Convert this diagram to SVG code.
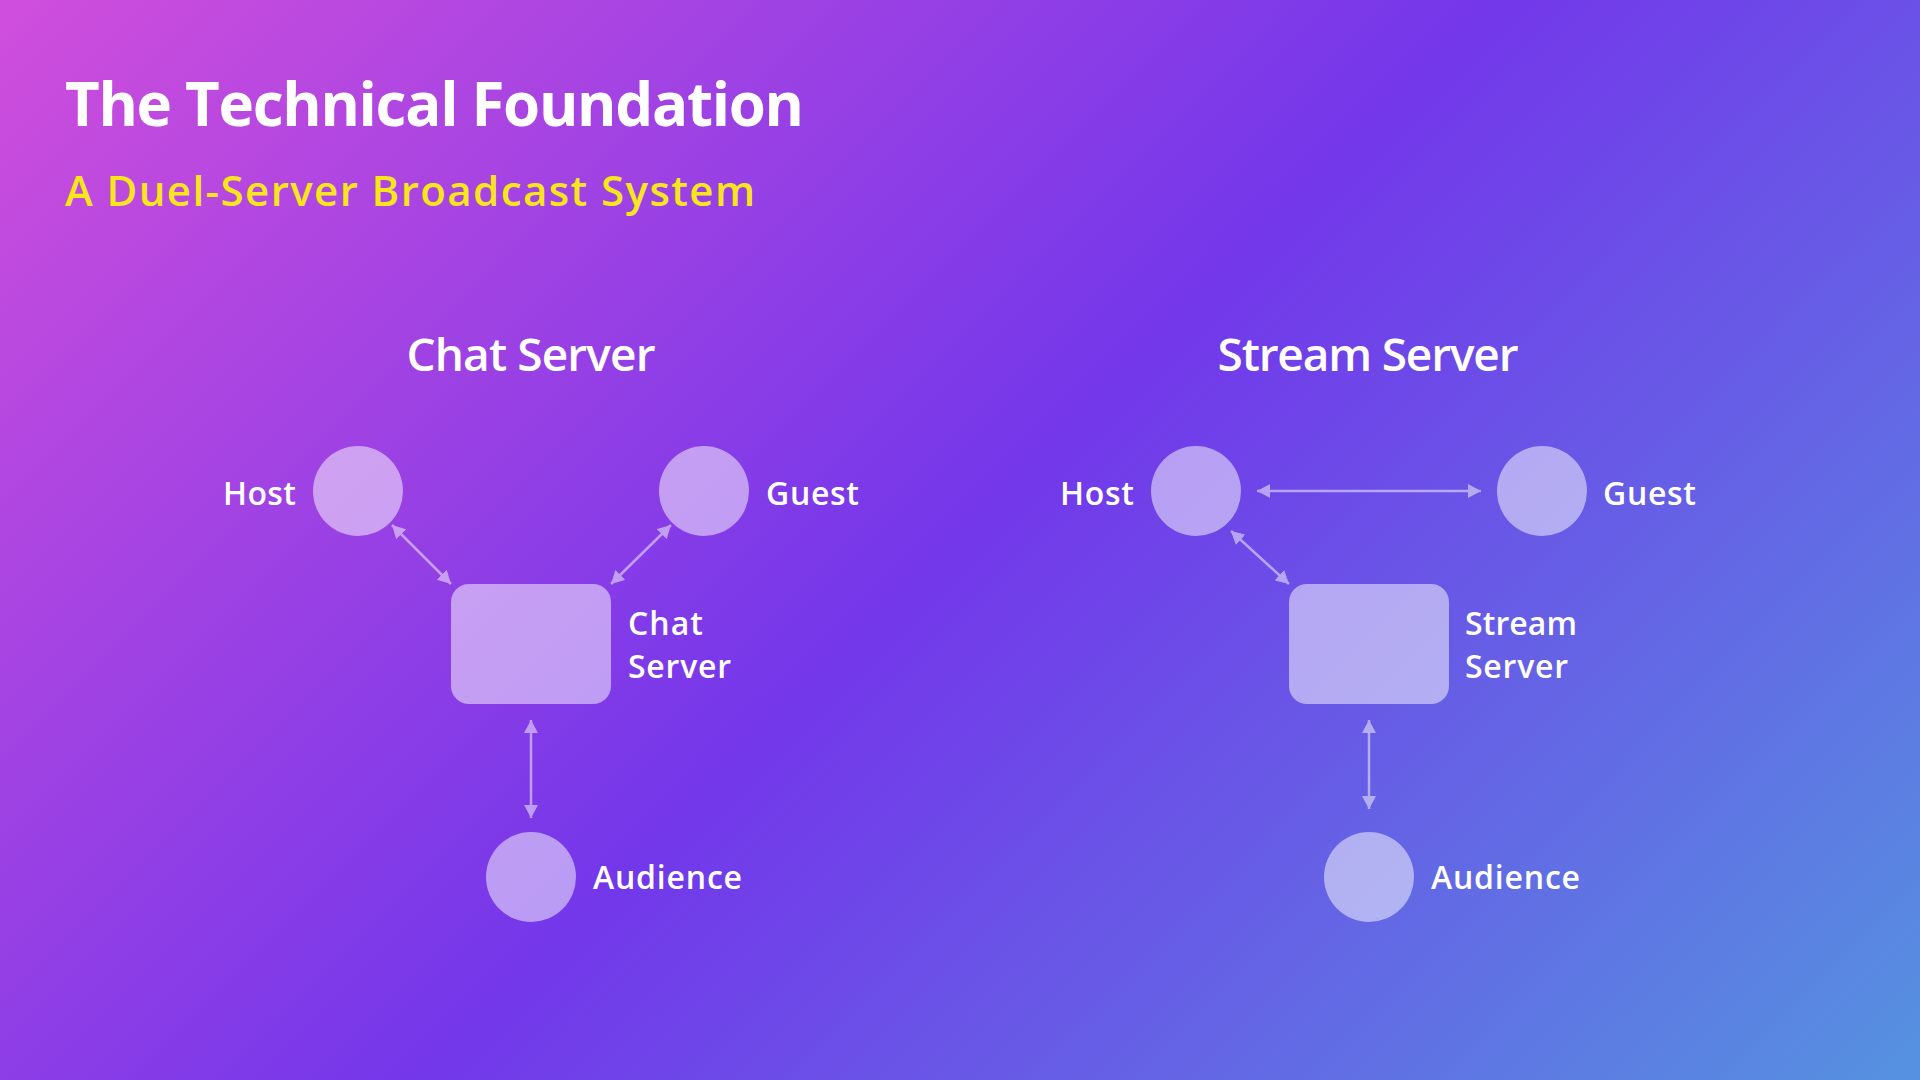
<svg xmlns="http://www.w3.org/2000/svg" width="1920" height="1080" viewBox="0 0 1920 1080">
  <defs>
    <linearGradient id="bg" gradientUnits="userSpaceOnUse" x1="0" y1="0" x2="1500" y2="1500">
      <stop offset="0" stop-color="#d04edc"/>
      <stop offset="0.5" stop-color="#7337ea"/>
      <stop offset="1" stop-color="#5592e0"/>
    </linearGradient>
    <marker id="arr" viewBox="0 0 13 14" markerUnits="userSpaceOnUse" markerWidth="13" markerHeight="14" refX="13" refY="7" orient="auto-start-reverse">
      <path d="M0,0 L13,7 L0,14 z" fill="#ffffff"/>
    </marker>
    <style>
      .title { font-family: "Open Sans", "Liberation Sans", sans-serif; font-weight: 700; font-size: 60px; fill: #ffffff; }
      .subtitle { font-family: "Open Sans", "Liberation Sans", sans-serif; font-weight: 600; font-size: 42px; fill: #f7e61c; }
      .heading { font-family: "Open Sans", "Liberation Sans", sans-serif; font-weight: 600; font-size: 46px; fill: #ffffff; text-anchor: middle; }
      .label { font-family: "Open Sans", "Liberation Sans", sans-serif; font-weight: 600; font-size: 32px; fill: #ffffff; }
      .end { text-anchor: end; }
      .node { fill: #ffffff; fill-opacity: 0.5; }
      .conn line { stroke: #ffffff; stroke-width: 2.5; marker-start: url(#arr); marker-end: url(#arr); }
    </style>
  </defs>
  <rect x="0" y="0" width="1920" height="1080" fill="url(#bg)"/>

  <text class="title" x="65" y="126" textLength="739">The Technical Foundation</text>
  <text class="subtitle" x="65" y="206" textLength="690">A Duel-Server Broadcast System</text>

  <text class="heading" x="531" y="371" textLength="249">Chat Server</text>
  <text class="heading" x="1368" y="371" textLength="301">Stream Server</text>

  <g id="connectors" class="conn" opacity="0.5">
    <line x1="392" y1="525" x2="451" y2="584"/>
    <line x1="671" y1="525" x2="611" y2="584"/>
    <line x1="531" y1="720" x2="531" y2="818"/>
    <line x1="1257" y1="491" x2="1481" y2="491"/>
    <line x1="1231" y1="531" x2="1289" y2="584"/>
    <line x1="1369" y1="720" x2="1369" y2="809"/>
  </g>

  <g id="chat-host">
    <circle class="node" cx="358" cy="491" r="45"/>
    <text class="label end" x="296" y="505" textLength="73">Host</text>
  </g>
  <g id="chat-guest">
    <circle class="node" cx="704" cy="491" r="45"/>
    <text class="label" x="766" y="505" textLength="93">Guest</text>
  </g>
  <g id="chat-server">
    <rect class="node" x="451" y="584" width="160" height="120" rx="18"/>
    <text class="label" x="628" y="635" textLength="75">Chat</text>
    <text class="label" x="628" y="678" textLength="103">Server</text>
  </g>
  <g id="chat-audience">
    <circle class="node" cx="531" cy="877" r="45"/>
    <text class="label" x="593" y="889" textLength="149">Audience</text>
  </g>

  <g id="stream-host">
    <circle class="node" cx="1196" cy="491" r="45"/>
    <text class="label end" x="1134" y="505" textLength="74">Host</text>
  </g>
  <g id="stream-guest">
    <circle class="node" cx="1542" cy="491" r="45"/>
    <text class="label" x="1603" y="505" textLength="93">Guest</text>
  </g>
  <g id="stream-server">
    <rect class="node" x="1289" y="584" width="160" height="120" rx="18"/>
    <text class="label" x="1465" y="635" textLength="112">Stream</text>
    <text class="label" x="1465" y="678" textLength="103">Server</text>
  </g>
  <g id="stream-audience">
    <circle class="node" cx="1369" cy="877" r="45"/>
    <text class="label" x="1431" y="889" textLength="149">Audience</text>
  </g>
</svg>
